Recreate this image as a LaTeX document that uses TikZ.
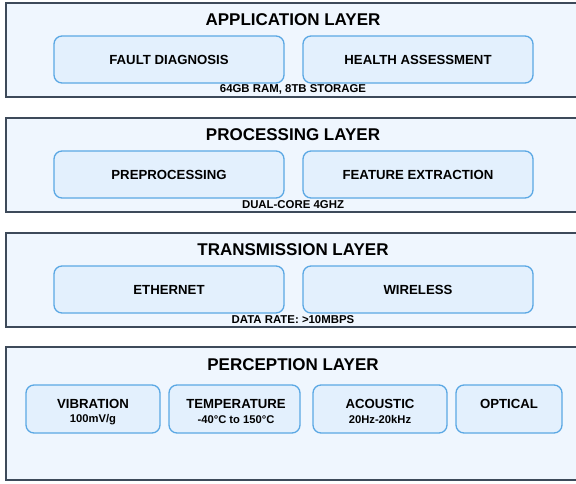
\documentclass[tikz,border=0pt]{standalone}
\usepackage{fontspec}
\setmainfont{Liberation Sans}
\definecolor{layerfill}{HTML}{EFF6FE}
\definecolor{layerdraw}{HTML}{3D4A5A}
\definecolor{boxfill}{HTML}{E3F0FD}
\definecolor{boxdraw}{HTML}{5BA8E4}
\begin{document}
\begin{tikzpicture}[x=1pt,y=-1pt,
  layer/.style={draw=layerdraw,fill=layerfill,line width=1.8pt},
  module/.style={draw=boxdraw,fill=boxfill,line width=1.3pt,rounded corners=8pt,
    font=\bfseries\fontsize{13.2}{15}\selectfont,align=center,inner sep=0pt},
  ltitle/.style={font=\bfseries\fontsize{17}{19}\selectfont},
  mtext/.style={font=\bfseries\fontsize{13.2}{15}\selectfont},
  spec/.style={font=\bfseries\fontsize{11.4}{13}\selectfont},
  sub/.style={font=\bfseries\fontsize{11.2}{13}\selectfont}]
\useasboundingbox (0,0) rectangle (576,483);
\begin{scope}
\clip (0,0) rectangle (576,483);
% layers
\draw[layer] (6,3) rectangle (590,97);
\draw[layer] (6,118) rectangle (590,212);
\draw[layer] (6,233) rectangle (590,327);
\draw[layer] (6,347) rectangle (590,480);
\end{scope}
% application
\node[ltitle] (appT) at (293,19.5) {APPLICATION LAYER};
\node[module,minimum width=230pt,minimum height=47pt] (fault) at (169,59.5) {FAULT DIAGNOSIS};
\node[module,minimum width=230pt,minimum height=47pt] (health) at (418,59.5) {HEALTH ASSESSMENT};
\node[spec] (appS) at (293,89.5) {64GB RAM, 8TB STORAGE};
% processing
\node[ltitle] (procT) at (293,134.5) {PROCESSING LAYER};
\node[module,minimum width=230pt,minimum height=47pt] (prep) at (169,174.5) {PREPROCESSING};
\node[module,minimum width=230pt,minimum height=47pt] (feat) at (418,174.5) {FEATURE EXTRACTION};
\node[spec] (procS) at (293,204.5) {DUAL-CORE 4GHZ};
% transmission
\node[ltitle] (trT) at (293,249.5) {TRANSMISSION LAYER};
\node[module,minimum width=230pt,minimum height=47pt] (eth) at (169,289.5) {ETHERNET};
\node[module,minimum width=230pt,minimum height=47pt] (wl) at (418,289.5) {WIRELESS};
\node[spec] (trS) at (293,319.5) {DATA RATE: >10MBPS};
% perception
\node[ltitle] (perT) at (293,364.5) {PERCEPTION LAYER};
\node[module,minimum width=134pt,minimum height=48pt] (vib) at (93,409) {};
\node[module,minimum width=131pt,minimum height=48pt] (temp) at (234.5,409) {};
\node[module,minimum width=134pt,minimum height=48pt] (aco) at (380,409) {};
\node[module,minimum width=106pt,minimum height=48pt] (opt) at (509,409) {};
\node[mtext] (vibA) at (93,404) {VIBRATION};
\node[sub] (vibB) at (93,419.5) {100mV/g};
\node[mtext] (tempA) at (236,404) {TEMPERATURE};
\node[sub] (tempB) at (236,419.5) {-40°C to 150°C};
\node[mtext] (acoA) at (380,404) {ACOUSTIC};
\node[sub] (acoB) at (380,419.5) {20Hz-20kHz};
\node[mtext] (optA) at (509,404) {OPTICAL};
\end{tikzpicture}
\end{document}
